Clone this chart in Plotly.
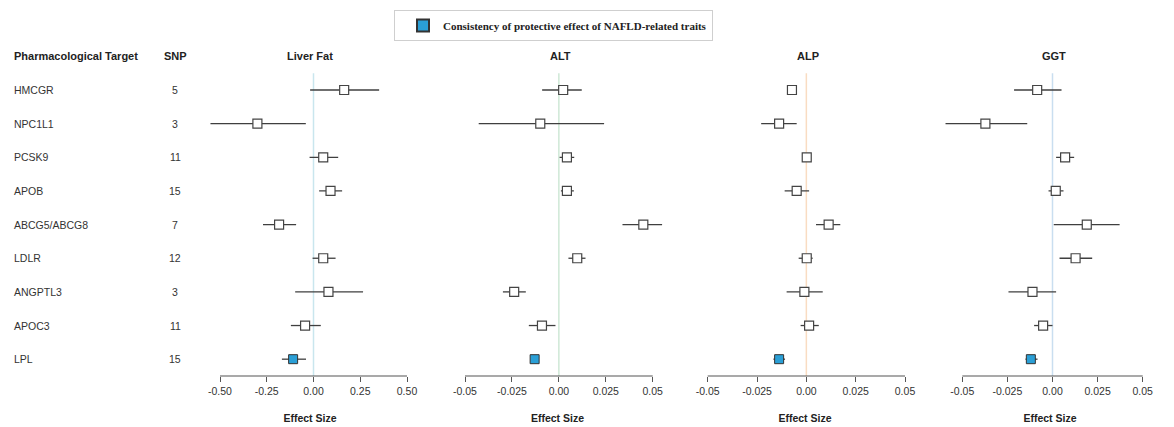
import plotly.graph_objects as go

W, H = 1174, 427
OFF = 8  # page body margin offset in pixels

targets = ["HMCGR", "NPC1L1", "PCSK9", "APOB", "ABCG5/ABCG8", "LDLR", "ANGPTL3", "APOC3", "LPL"]
snps = [5, 3, 11, 15, 7, 12, 3, 11, 15]

panels = ["Liver Fat", "ALT", "ALP", "GGT"]

lf_est = [0.164, -0.300, 0.052, 0.091, -0.184, 0.052, 0.080, -0.045, -0.109]
lf_lo = [-0.018, -0.551, -0.021, 0.030, -0.270, -0.005, -0.098, -0.121, -0.169]
lf_hi = [0.351, -0.041, 0.132, 0.153, -0.093, 0.118, 0.265, 0.039, -0.040]

alt_est = [0.0023, -0.0099, 0.0043, 0.0043, 0.0450, 0.0098, -0.0238, -0.0090, -0.0129]
alt_lo = [-0.0089, -0.0427, 0.0004, 0.0011, 0.0339, 0.0051, -0.0298, -0.0160, -0.0136]
alt_hi = [0.0122, 0.0241, 0.0082, 0.0080, 0.0550, 0.0142, -0.0176, -0.0018, -0.0122]

alp_est = [-0.0073, -0.0138, 0.0002, -0.0049, 0.0113, 0.0002, -0.0010, 0.0014, -0.0138]
alp_lo = [-0.0096, -0.0229, -0.0006, -0.0110, 0.0049, -0.0039, -0.0100, -0.0029, -0.0167]
alp_hi = [-0.0051, -0.0049, 0.0010, 0.0014, 0.0172, 0.0032, 0.0083, 0.0063, -0.0108]

ggt_est = [-0.0085, -0.0372, 0.0070, 0.0018, 0.0190, 0.0128, -0.0111, -0.0052, -0.0120]
ggt_lo = [-0.0213, -0.0593, 0.0020, -0.0022, 0.0007, 0.0039, -0.0244, -0.0102, -0.0150]
ggt_hi = [0.0050, -0.0140, 0.0120, 0.0061, 0.0372, 0.0220, 0.0020, 0.0000, -0.0083]

protective = [False, False, False, False, False, False, False, False, True]

lf_ticks = [-0.5, -0.25, 0.0, 0.25, 0.5]
lf_ticklabels = ["-0.50", "-0.25", "0.00", "0.25", "0.50"]
enz_ticks = [-0.05, -0.025, 0.0, 0.025, 0.05]
enz_ticklabels = ["-0.05", "-0.025", "0.00", "0.025", "0.05"]

legend_label = "Consistency of protective effect of NAFLD-related traits"

data = [(lf_est, lf_lo, lf_hi), (alt_est, alt_lo, alt_hi),
        (alp_est, alp_lo, alp_hi), (ggt_est, ggt_lo, ggt_hi)]
ticks = [(lf_ticks, lf_ticklabels), (enz_ticks, enz_ticklabels),
         (enz_ticks, enz_ticklabels), (enz_ticks, enz_ticklabels)]


def px(xp):
    return (xp - OFF) / W


def py(yp):
    return 1 - (yp - OFF) / H


# layout geometry (screen pixels): first/last tick pixel, domain pixels
geom = [
    (220.0, 407.0, 200, 420),
    (465.0, 652.7, 445, 670),
    (707.7, 905.0, 690, 920),
    (962.3, 1142.7, 940, 1160),
]
zero_colors = ["#c9e6ee", "#cfe8d6", "#f9dcc2", "#c9def0"]
title_x = [310, 560, 808, 1054]

plot_top, plot_bot = 73.2, 376.0
ydom = [py(plot_bot), py(plot_top)]

BLUE = "#2a9fd6"
LINE = "#3f3f3f"

fig = go.Figure()
layout = dict(
    width=W, height=H,
    margin=dict(l=0, r=0, t=0, b=0),
    paper_bgcolor="white", plot_bgcolor="white",
    font=dict(family="Liberation Sans, Arial, sans-serif", size=10, color="#333"),
    yaxis=dict(domain=ydom, range=[8.5, -0.5], visible=False, anchor="x"),
    showlegend=True,
    legend=dict(
        x=px(394), y=py(10), xanchor="left", yanchor="top",
        bgcolor="white", bordercolor="#cfcfcf", borderwidth=1,
        font=dict(family="Liberation Serif, Times New Roman, serif", size=11, color="#222"),
        itemsizing="constant", entrywidth=300, entrywidthmode="pixels",
        indentation=8,
    ),
)
shapes = []
annotations = []

for i, (name, (est, lo, hi), (tv, tl), (p0, p1, d0, d1)) in enumerate(zip(panels, data, ticks, geom)):
    ax = "x" if i == 0 else f"x{i+1}"
    axkey = "xaxis" if i == 0 else f"xaxis{i+1}"
    t0, t1 = tv[0], tv[-1]
    scale = (t1 - t0) / (p1 - p0)
    r0 = t0 + (d0 - p0) * scale
    r1 = t0 + (d1 - p0) * scale
    layout[axkey] = dict(
        domain=[px(d0), px(d1)], range=[r0, r1], anchor="y",
        showgrid=False, zeroline=False, showline=False,
        ticks="outside", ticklen=5, tickcolor="#555", tickwidth=1,
        tickvals=tv, ticktext=tl, tickfont=dict(size=10.5, color="#333"),
        title=dict(text="<b>Effect Size</b>", font=dict(size=10.5, color="#222"), standoff=19),
    )
    # axis line spanning first to last tick
    shapes.append(dict(type="line", xref=ax, yref="paper", x0=t0, x1=t1,
                       y0=py(plot_bot), y1=py(plot_bot),
                       line=dict(color="#555", width=1.2)))
    # reference line at zero
    shapes.append(dict(type="line", xref=ax, yref="y domain", x0=0, x1=0, y0=0, y1=1,
                       line=dict(color=zero_colors[i], width=1.5), layer="below"))
    # CI lines
    for j in range(len(targets)):
        fig.add_trace(go.Scatter(
            x=[lo[j], hi[j]], y=[j, j], mode="lines",
            line=dict(color=LINE, width=1.3), xaxis=ax, yaxis="y",
            showlegend=False, hoverinfo="skip"))
    # point estimates
    ys = list(range(len(targets)))
    wx = [e for e, p in zip(est, protective) if not p]
    wy = [y for y, p in zip(ys, protective) if not p]
    bx = [e for e, p in zip(est, protective) if p]
    by = [y for y, p in zip(ys, protective) if p]
    fig.add_trace(go.Scatter(
        x=wx, y=wy, mode="markers", xaxis=ax, yaxis="y",
        marker=dict(symbol="square", size=9, color="white", line=dict(color="#444", width=1.2)),
        showlegend=False))
    fig.add_trace(go.Scatter(
        x=bx, y=by, mode="markers", xaxis=ax, yaxis="y",
        marker=dict(symbol="square", size=9, color=BLUE, line=dict(color="#333", width=1)),
        name="<b>" + legend_label + "</b>", showlegend=(i == 0)))
    annotations.append(dict(text=f"<b>{name}</b>", x=px(title_x[i]), y=py(56),
                            xref="paper", yref="paper", showarrow=False,
                            xanchor="center", yanchor="middle",
                            font=dict(size=11, color="#222")))

annotations.append(dict(text="<b>Pharmacological Target</b>", x=px(12), y=py(56),
                        xref="paper", yref="paper", showarrow=False,
                        xanchor="left", yanchor="middle", font=dict(size=11, color="#222")))
annotations.append(dict(text="<b>SNP</b>", x=px(175), y=py(56),
                        xref="paper", yref="paper", showarrow=False,
                        xanchor="center", yanchor="middle", font=dict(size=11, color="#222")))
for j, (t, s) in enumerate(zip(targets, snps)):
    annotations.append(dict(text=t, x=px(12), y=j, xref="paper", yref="y", showarrow=False,
                            xanchor="left", yanchor="middle", font=dict(size=10.5, color="#333")))
    annotations.append(dict(text=str(s), x=px(175), y=j, xref="paper", yref="y", showarrow=False,
                            xanchor="center", yanchor="middle", font=dict(size=10.5, color="#333")))

layout["shapes"] = shapes
layout["annotations"] = annotations
fig.update_layout(**layout)
fig.write_html("out.html")
